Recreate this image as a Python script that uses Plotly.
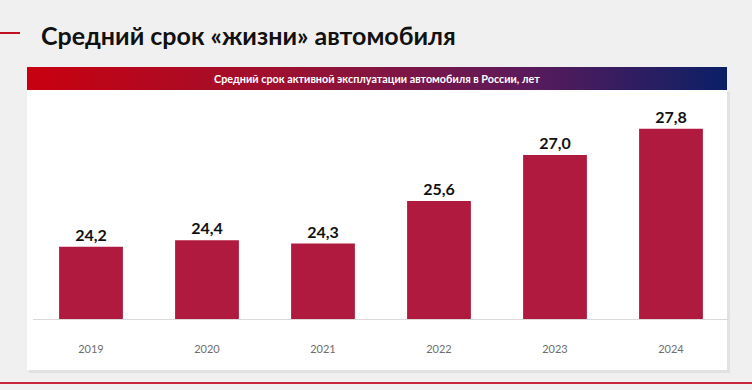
import plotly.graph_objects as go

years = ["2019", "2020", "2021", "2022", "2023", "2024"]
values = [24.2, 24.4, 24.3, 25.6, 27.0, 27.8]
title_text = "Средний срок «жизни» автомобиля"
band_text = "Средний срок активной эксплуатации автомобиля в России, лет"

W, H = 752, 390
L, R, T, B = 33, 23, 90, 71
PW, PH = W - L - R, H - T - B
FONT = "Lato"


def px(xp):
    return (xp - L) / PW


def py(yp):
    return (H - B - yp) / PH


fig = go.Figure()
fig.add_trace(go.Bar(
    x=years, y=values,
    marker=dict(color="#B01A3E", line=dict(width=0)),
    text=values, texttemplate="<b>%{y:.1f}</b>", textposition="outside",
    textfont=dict(family=FONT, size=16, color="#111111"),
    cliponaxis=False, width=0.55,
))

svg = ("data:image/svg+xml;utf8,<svg xmlns='http://www.w3.org/2000/svg' width='700' height='23' "
       "preserveAspectRatio='none'><defs><linearGradient id='g' x1='0' x2='1' y1='0' y2='0'>"
       "<stop offset='0' stop-color='%23C8000F'/><stop offset='0.35' stop-color='%23A0102E'/>"
       "<stop offset='0.7' stop-color='%235E1A5A'/><stop offset='1' stop-color='%230B2066'/>"
       "</linearGradient></defs><rect width='700' height='23' fill='url(%23g)'/></svg>")

fig.add_layout_image(dict(source=svg, xref="paper", yref="paper",
                          x=px(27), y=py(67), sizex=px(727) - px(27), sizey=py(67) - py(90),
                          sizing="stretch", xanchor="left", yanchor="top", layer="above"))

shapes = [
    dict(type="rect", xref="paper", yref="paper", x0=px(29), x1=px(730), y0=py(373), y1=py(92),
         fillcolor="#E2E2E2", line=dict(width=0), layer="below"),
    dict(type="rect", xref="paper", yref="paper", x0=px(27), x1=px(727), y0=py(370), y1=py(90),
         fillcolor="white", line=dict(width=0), layer="below"),
    dict(type="line", xref="paper", yref="paper", x0=px(0), x1=px(20), y0=py(33), y1=py(33),
         line=dict(color="#C0101E", width=2)),
    dict(type="line", xref="paper", yref="paper", x0=px(0), x1=px(752), y0=py(383), y1=py(383),
         line=dict(color="#C8263A", width=2)),
]

annotations = [
    dict(text="<b>" + title_text + "</b>", xref="paper", yref="paper", x=px(39), y=py(35),
         xanchor="left", yanchor="middle", showarrow=False,
         font=dict(family=FONT, size=25, color="#111111")),
    dict(text="<b>" + band_text + "</b>", xref="paper", yref="paper", x=px(377), y=py(78.5),
         xanchor="center", yanchor="middle", showarrow=False,
         font=dict(family=FONT, size=10.8, color="white")),
]

fig.update_layout(
    width=W, height=H, margin=dict(l=L, r=R, t=T, b=B),
    paper_bgcolor="#F0F0F0", plot_bgcolor="rgba(0,0,0,0)",
    separators=", ", showlegend=False,
    shapes=shapes, annotations=annotations,
    bargap=0.45,
    xaxis=dict(showgrid=False, showline=True, linecolor="#D9D9D9", linewidth=1,
               ticks="", ticklabelstandoff=20,
               tickfont=dict(family=FONT, size=11, color="#6E6E6E"),
               fixedrange=True),
    yaxis=dict(range=[22, 22 + PH / 32.8], visible=False, showgrid=False, zeroline=False),
)

fig.write_html("out.html", config={"displayModeBar": False},
               post_script="document.body.style.margin='0';document.body.style.background='#F0F0F0';")
